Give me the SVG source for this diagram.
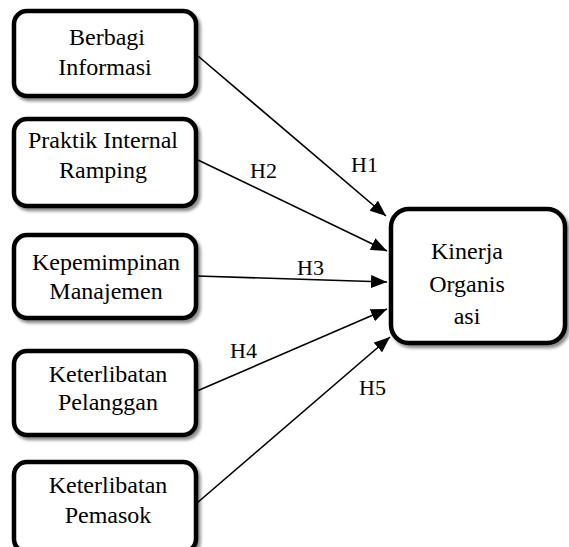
<svg xmlns="http://www.w3.org/2000/svg" width="569" height="547" viewBox="0 0 569 547">
<defs>
<style>
.box{fill:#fff;stroke:#000;stroke-width:4.5;filter:url(#sh)}
.t{font-family:"Liberation Serif","Times New Roman",serif;font-size:24px;fill:#000;text-anchor:middle}
.h{font-family:"Liberation Serif","Times New Roman",serif;font-size:22px;fill:#000}
.c{stroke:#000;stroke-width:1.6;fill:none;marker-end:url(#ah)}
</style>
<filter id="sh" x="-10%" y="-10%" width="125%" height="130%">
<feDropShadow dx="2.5" dy="3" stdDeviation="1.5" flood-color="#000" flood-opacity="0.45"/>
</filter>
<marker id="ah" markerWidth="16" markerHeight="13" refX="16" refY="6.5" orient="auto" markerUnits="userSpaceOnUse" viewBox="0 0 16 13">
<path d="M0,0 L16,6.5 L0,13 Z" fill="#000"/>
</marker>
</defs>
<g id="connectors">
<line class="c" x1="198" y1="56" x2="386" y2="216"/>
<line class="c" x1="198" y1="160" x2="387" y2="251"/>
<line class="c" x1="197" y1="276" x2="387" y2="282"/>
<line class="c" x1="197" y1="391" x2="387" y2="309"/>
<line class="c" x1="197" y1="503" x2="390" y2="337"/>
<text class="h" x="351" y="172">H1</text>
<text class="h" x="250" y="178">H2</text>
<text class="h" x="297" y="275">H3</text>
<text class="h" x="230" y="358">H4</text>
<text class="h" x="359" y="395">H5</text>
</g>
<g id="n1">
<rect class="box" x="14" y="11" width="182" height="85" rx="13"/>
<text class="t" x="107" y="45">Berbagi</text>
<text class="t" x="105" y="75">Informasi</text>
</g>
<g id="n2">
<rect class="box" x="14" y="119" width="182" height="87" rx="13"/>
<text class="t" x="103" y="148">Praktik Internal</text>
<text class="t" x="103" y="178">Ramping</text>
</g>
<g id="n3">
<rect class="box" x="14" y="235" width="182" height="83" rx="13"/>
<text class="t" x="106" y="270">Kepemimpinan</text>
<text class="t" x="106" y="299">Manajemen</text>
</g>
<g id="n4">
<rect class="box" x="14" y="351" width="182" height="84" rx="13"/>
<text class="t" x="108" y="382">Keterlibatan</text>
<text class="t" x="108" y="410">Pelanggan</text>
</g>
<g id="n5">
<rect class="box" x="14" y="462" width="182" height="90" rx="13"/>
<text class="t" x="108" y="493">Keterlibatan</text>
<text class="t" x="108" y="523">Pemasok</text>
</g>
<g id="target">
<rect class="box" x="391" y="209" width="174" height="134" rx="18"/>
<text class="t" x="467" y="259">Kinerja</text>
<text class="t" x="467" y="292">Organis</text>
<text class="t" x="467" y="324">asi</text>
</g>
</svg>
